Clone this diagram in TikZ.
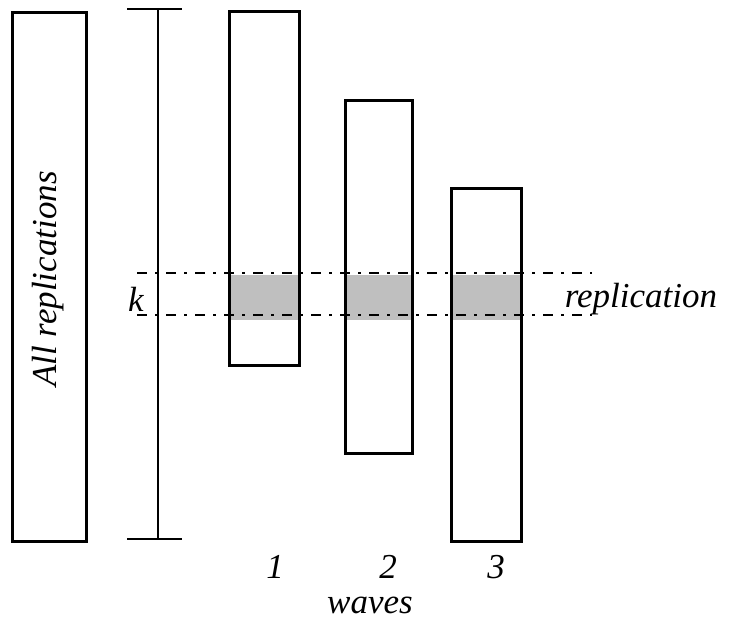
\documentclass[tikz,border=0pt]{standalone}
\usepackage{fontspec}
\setmainfont{Liberation Serif}
\begin{document}
\begin{tikzpicture}[x=1pt,y=-1pt,
  thinbox/.style={draw=black,line width=2.6pt,fill=none,inner sep=0pt,anchor=north west},
  wavebox/.style={draw=black,line width=3.4pt,fill=none,inner sep=0pt,anchor=north west},
  shade/.style={fill=black!25,draw=none},
  cutline/.style={line width=2.6pt,dash pattern=on 10pt off 8pt on 3pt off 8pt},
  barline/.style={line width=2.3pt},
  lbl/.style={font=\fontsize{35}{40}\selectfont\itshape,inner sep=0pt}
]
\useasboundingbox (0,0) rectangle (729,628);

% all replications
\node[thinbox,minimum width=74pt,minimum height=529pt] (all) at (11,11) {};
\node[lbl,rotate=90] (alltext) at (48,279) {All replications};

% measuring bar with end caps
\coordinate (bartop) at (158,9);
\coordinate (barbot) at (158,539);
\draw[barline] (bartop) -- (barbot);
\draw[barline] ([xshift=-31pt]bartop) -- ([xshift=24pt]bartop);
\draw[barline] ([xshift=-31pt]barbot) -- ([xshift=24pt]barbot);

% shaded slices of replication k
\fill[shade] (228,275) rectangle (298,320);
\fill[shade] (344,275) rectangle (411,320);
\fill[shade] (450,275) rectangle (520,320);

% band limits
\coordinate (ua) at (137,273);
\coordinate (ub) at (592,273);
\coordinate (la) at (137,315);
\coordinate (lb) at (592,315);
\draw[cutline] (ua) -- (ub);
\draw[cutline] (la) -- (lb);

% waves
\node[wavebox,minimum width=70pt,minimum height=354pt] (w1) at (228,10) {};
\node[wavebox,minimum width=67pt,minimum height=353pt] (w2) at (344,99) {};
\node[wavebox,minimum width=70pt,minimum height=353pt] (w3) at (450,187) {};

% labels
\node[lbl] (k) at (136,299) {k};
\node[lbl] (rep) at (641,299) {replication};
\node[lbl] (n1) at (275,567) {1};
\node[lbl] (n2) at (388,567) {2};
\node[lbl] (n3) at (496,567) {3};
\node[lbl] (waves) at (370,605) {waves};
\end{tikzpicture}
\end{document}
